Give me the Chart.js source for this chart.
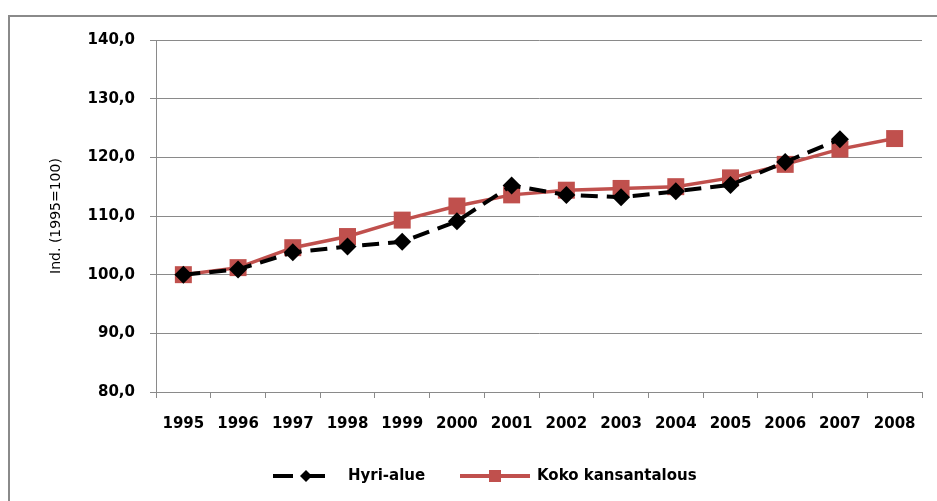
<!DOCTYPE html>
<html>
<head>
<meta charset="utf-8">
<script src="https://cdn.jsdelivr.net/npm/chart.js@4.4.0/dist/chart.umd.min.js"></script>
<style>
  html, body { margin: 0; padding: 0; background: #fff; }
  #wrap { position: relative; width: 937px; height: 501px; overflow: hidden; }
  #frame { position: absolute; left: 8px; top: 15px; width: 940px; height: 500px; border: 2px solid #8a8a8a; box-sizing: border-box; }
  canvas { position: absolute; left: 0; top: 0; }
</style>
</head>
<body>
<div id="wrap">
  <div id="frame"></div>
  <canvas id="chart" width="937" height="501"></canvas>
</div>
<script>
const years = ['1995', '1996', '1997', '1998', '1999', '2000', '2001', '2002', '2003', '2004', '2005', '2006', '2007', '2008'];
const hyriAlue = [100.0, 100.9, 103.8, 104.8, 105.6, 109.1, 115.2, 113.6, 113.2, 114.2, 115.3, 119.2, 123.1, null];
const kokoKansantalous = [100.0, 101.2, 104.6, 106.5, 109.3, 111.7, 113.6, 114.4, 114.7, 115.0, 116.5, 118.8, 121.4, 123.2];
const yTicks = [80, 90, 100, 110, 120, 130, 140];

const red = '#C0504D';
const tickFont = { family: 'DejaVu Sans', size: 15, weight: 'bold' };

// legend drawn by hand: line sample + marker + label
const legendPlugin = {
    id: 'sampleLegend',
    afterDraw(chart) {
        const ctx = chart.ctx;
        const y = 476;
        ctx.save();
        // Hyri-alue
        ctx.strokeStyle = '#000';
        ctx.lineWidth = 4;
        ctx.setLineDash([20, 12]);
        ctx.beginPath();
        ctx.moveTo(273, y);
        ctx.lineTo(330, y);
        ctx.stroke();
        ctx.setLineDash([]);
        ctx.fillStyle = '#000';
        ctx.beginPath();
        ctx.moveTo(306, y - 6);
        ctx.lineTo(312, y);
        ctx.lineTo(306, y + 6);
        ctx.lineTo(300, y);
        ctx.closePath();
        ctx.fill();
        // Koko kansantalous
        ctx.strokeStyle = red;
        ctx.lineWidth = 4;
        ctx.beginPath();
        ctx.moveTo(460, y);
        ctx.lineTo(530, y);
        ctx.stroke();
        ctx.fillStyle = red;
        ctx.fillRect(489, y - 6, 12, 12);
        // labels
        ctx.fillStyle = '#000';
        ctx.font = 'bold 15px "DejaVu Sans"';
        ctx.textBaseline = 'middle';
        ctx.fillText('Hyri-alue', 348, y);
        ctx.fillText('Koko kansantalous', 537, y);
        ctx.restore();
    }
};

new Chart(document.getElementById('chart'), {
    type: 'line',
    data: {
        labels: years,
        datasets: [{
            label: 'Hyri-alue',
            data: hyriAlue,
            borderColor: '#000',
            backgroundColor: '#000',
            borderWidth: 4,
            borderDash: [17, 9],
            pointStyle: 'rectRot',
            pointRadius: 9,
            pointBorderWidth: 0,
            tension: 0
        }, {
            label: 'Koko kansantalous',
            data: kokoKansantalous,
            borderColor: red,
            backgroundColor: red,
            borderWidth: 3.5,
            pointStyle: 'rect',
            pointRadius: 12,
            pointBorderWidth: 0,
            tension: 0
        }]
    },
    options: {
        responsive: false,
        animation: false,
        layout: { padding: { left: 40, top: 40, right: 15, bottom: 0 } },
        plugins: {
            legend: { display: false },
            tooltip: { enabled: false }
        },
        scales: {
            x: {
                offset: true,
                grid: {
                    offset: true,
                    drawOnChartArea: false,
                    drawTicks: true,
                    tickLength: 6,
                    color: '#8a8a8a'
                },
                border: { color: '#8a8a8a' },
                ticks: { color: '#000', font: tickFont, padding: 17, maxRotation: 0 },
                afterFit(scale) { scale.height = 109; }
            },
            y: {
                min: 80,
                max: 140,
                afterBuildTicks(scale) { scale.ticks = yTicks.map(v => ({ value: v })); },
                grid: { color: '#8a8a8a', tickLength: 6 },
                border: { color: '#8a8a8a' },
                ticks: {
                    color: '#000',
                    font: tickFont,
                    padding: 15,
                    callback: v => v.toFixed(1).replace('.', ',')
                },
                title: {
                    display: true,
                    text: 'Ind. (1995=100)',
                    color: '#000',
                    font: { family: 'DejaVu Sans', size: 14 },
                    padding: { top: 8, bottom: 0 }
                },
                afterFit(scale) { scale.width = 116; }
            }
        }
    },
    plugins: [legendPlugin]
});
</script>
</body>
</html>
